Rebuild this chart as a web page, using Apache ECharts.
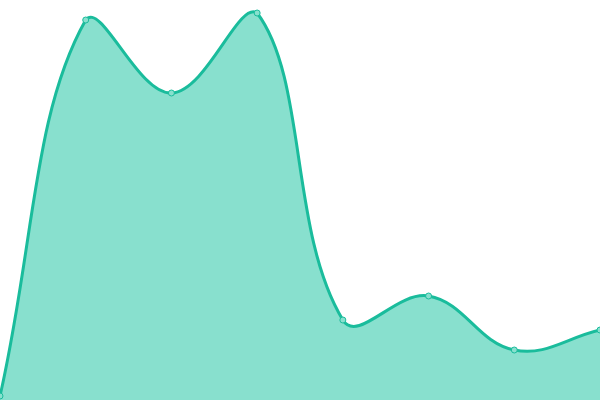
<!DOCTYPE html>
<html><head><meta charset="utf-8">
<script src="https://cdn.jsdelivr.net/npm/echarts@6/dist/echarts.min.js"></script>
<style>html,body{margin:0;padding:0;background:#fff}#c{width:600px;height:400px}</style>
</head><body><div id="c"></div>
<script>
const categories = ['1','2','3','4','5','6','7','8'];
const values = [4, 380, 307, 387, 80, 104, 50, 70];
const TENSION = 0.4;

function renderCurve(params, api) {
  const cs = params.coordSys;
  const pts = values.map((v, i) => api.coord([i, v]));
  const n = pts.length;
  const cap = (x, y) => [
    Math.min(Math.max(x, cs.x), cs.x + cs.width),
    Math.min(Math.max(y, cs.y), cs.y + cs.height)
  ];
  const cps = pts.map((p, i) => {
    const prev = pts[i - 1] || p, next = pts[i + 1] || p;
    const d01 = Math.hypot(p[0] - prev[0], p[1] - prev[1]);
    const d12 = Math.hypot(next[0] - p[0], next[1] - p[1]);
    let s01 = d01 / (d01 + d12), s12 = d12 / (d01 + d12);
    if (isNaN(s01)) s01 = 0;
    if (isNaN(s12)) s12 = 0;
    const fa = TENSION * s01, fb = TENSION * s12;
    const vx = next[0] - prev[0], vy = next[1] - prev[1];
    return {
      prev: cap(p[0] - fa * vx, p[1] - fa * vy),
      next: cap(p[0] + fb * vx, p[1] + fb * vy)
    };
  });
  let d = 'M' + pts[0][0] + ' ' + pts[0][1];
  for (let i = 1; i < n; i++) {
    d += ' C' + cps[i - 1].next[0] + ' ' + cps[i - 1].next[1] + ' ' +
      cps[i].prev[0] + ' ' + cps[i].prev[1] + ' ' + pts[i][0] + ' ' + pts[i][1];
  }
  const base = cs.y + cs.height;
  const area = d + ' L' + pts[n - 1][0] + ' ' + base + ' L' + pts[0][0] + ' ' + base + ' Z';
  const children = [
    {type: 'path', shape: {pathData: area}, style: {fill: '#88e0ce', stroke: 'none'}},
    {type: 'path', shape: {pathData: d}, style: {fill: 'none', stroke: '#1abc9c', lineWidth: 3}}
  ];
  pts.forEach(p => {
    children.push({type: 'circle', shape: {cx: p[0], cy: p[1], r: 3},
      style: {fill: '#88e0ce', stroke: '#1abc9c', lineWidth: 1}});
  });
  return {type: 'group', children};
}

const chart = echarts.init(document.getElementById('c'));
chart.setOption({
  animation: false,
  grid: {left: 0, right: 0, top: 0, bottom: 0},
  xAxis: {type: 'category', data: categories, boundaryGap: false, show: false},
  yAxis: {type: 'value', min: 0, max: 400, show: false},
  series: [{
    type: 'custom',
    silent: true,
    clip: false,
    data: [[0, 0]],
    renderItem: renderCurve
  }]
});
</script></body></html>
